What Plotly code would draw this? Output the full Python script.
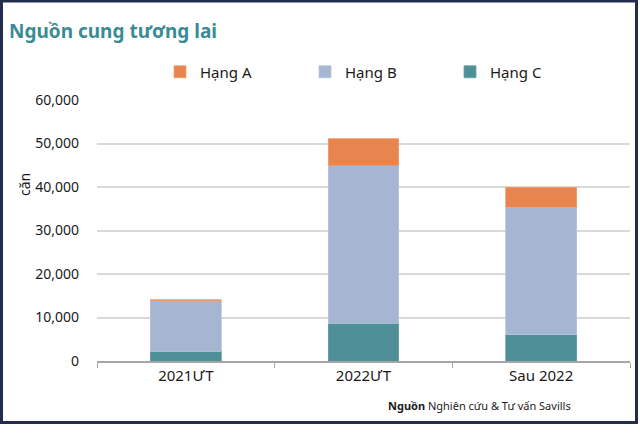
import plotly.graph_objects as go

categories = ["2021ƯT", "2022ƯT", "Sau 2022"]
hang_c = [2200, 8700, 6050]
hang_b = [11650, 36200, 29250]
hang_a = [250, 6250, 4600]
y_ticks = [0, 10000, 20000, 30000, 40000, 50000, 60000]
y_tick_labels = ["0", "10,000", "20,000", "30,000", "40,000", "50,000", "60,000"]

W, H = 640, 434
L, R, T, B = 97, 10, 100, 73
pw, ph = W - L - R, H - T - B

def px_x(x):
    return (x - L) / pw

def px_y(y):
    return (H - B - y) / ph

fig = go.Figure()
fig.add_trace(go.Bar(name="Hạng C", x=categories, y=hang_c, marker=dict(color="#4f8f98", line=dict(color="#6aa3ab", width=0.8))))
fig.add_trace(go.Bar(name="Hạng B", x=categories, y=hang_b, marker=dict(color="#a5b5d2", line=dict(color="#b9c6de", width=0.8))))
fig.add_trace(go.Bar(name="Hạng A", x=categories, y=hang_a, marker=dict(color="#e8854f", line=dict(color="#f0a070", width=0.8))))

fig.update_layout(
    width=W, height=H,
    margin=dict(l=L, r=R, t=T, b=B, autoexpand=False),
    barmode="stack",
    bargap=0.602,
    paper_bgcolor="white",
    plot_bgcolor="white",
    font=dict(family="Noto Sans", size=14, color="#1a1a1a"),
    legend=dict(
        orientation="h", traceorder="reversed",
        x=px_x(160), y=px_y(72), xanchor="left", yanchor="middle",
        entrywidth=100, entrywidthmode="pixels",
        font=dict(size=15, color="#1a1a1a"),
    ),
    xaxis=dict(
        showline=True, linecolor="#a6a6a6", linewidth=1.5,
        ticks="outside", tickson="boundaries", ticklen=5, tickcolor="#a6a6a6",
        tickfont=dict(size=15, color="#1a1a1a"),
        showgrid=False, automargin=False,
    ),
    yaxis=dict(
        range=[0, 60000], tickvals=y_ticks, ticktext=y_tick_labels,
        showgrid=True, gridcolor="#d9d9d9", gridwidth=1.5,
        zeroline=False, showline=False,
        tickfont=dict(size=14, color="#1a1a1a"),
        ticklabelstandoff=17, automargin=False,
    ),
    showlegend=True,
)

fig.add_annotation(text="<b>Nguồn cung tương lai</b>", xref="paper", yref="paper",
                   x=px_x(7), y=px_y(31), xanchor="left", yanchor="middle", showarrow=False,
                   font=dict(size=19, color="#3b8b96", family="Noto Sans"))
fig.add_annotation(text="căn", xref="paper", yref="paper", textangle=-90,
                   x=px_x(24), y=px_y(185), xanchor="center", yanchor="middle", showarrow=False,
                   font=dict(size=14, color="#1a1a1a"))
fig.add_annotation(text="<b>Nguồn</b> Nghiên cứu & Tư vấn Savills", xref="paper", yref="paper",
                   x=px_x(386), y=px_y(405), xanchor="left", yanchor="middle", showarrow=False,
                   font=dict(size=11, color="#1a1a1a"))

fig.add_shape(type="rect", xref="paper", yref="paper",
              x0=px_x(1.5), x1=px_x(636.5), y0=px_y(422.5), y1=px_y(1),
              line=dict(color="#242c4b", width=3), fillcolor="rgba(0,0,0,0)", layer="above")

fig.write_html("out.html", config={"displayModeBar": False},
               post_script="document.body.style.margin='0';document.body.style.padding='0';")
